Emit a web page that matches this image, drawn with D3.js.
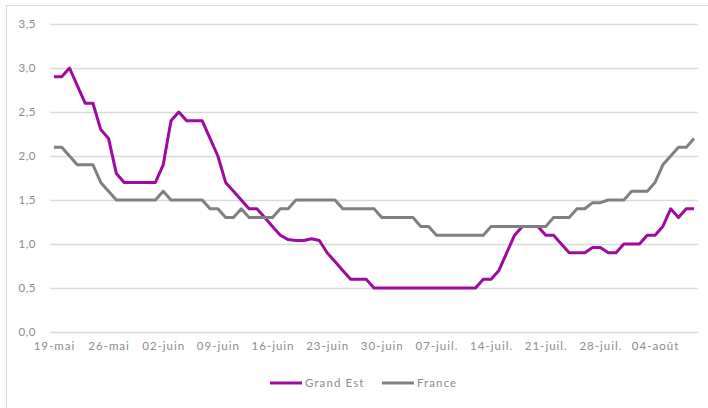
<!DOCTYPE html>
<html>
<head>
<meta charset="utf-8">
<script src="https://cdn.jsdelivr.net/npm/d3@7"></script>
<style>
	body { margin: 0; background: #fff; }
	text { font-family: Lato, 'Noto Sans', sans-serif; }
</style>
</head>
<body>
<script>
// one value per day, 19 mai -> 09 août
const days = d3.timeDay.range(new Date(2020, 4, 19), new Date(2020, 7, 10)).map(d3.timeFormat('%Y-%m-%d'));

const grandEst = [
	2.9, 2.9, 3.0, 2.8, 2.6, 2.6, 2.3, 2.2, 1.8, 1.7,
	1.7, 1.7, 1.7, 1.7, 1.9, 2.4, 2.5, 2.4, 2.4, 2.4,
	2.2, 2.0, 1.7, 1.6, 1.5, 1.4, 1.4, 1.3, 1.2, 1.1,
	1.05, 1.04, 1.04, 1.06, 1.04, 0.9, 0.8, 0.7, 0.6, 0.6,
	0.6, 0.5, 0.5, 0.5, 0.5, 0.5, 0.5, 0.5, 0.5, 0.5,
	0.5, 0.5, 0.5, 0.5, 0.5, 0.6, 0.6, 0.7, 0.9, 1.1,
	1.2, 1.2, 1.2, 1.1, 1.1, 1.0, 0.9, 0.9, 0.9, 0.96,
	0.96, 0.9, 0.9, 1.0, 1.0, 1.0, 1.1, 1.1, 1.2, 1.4,
	1.3, 1.4, 1.4
];

const france = [
	2.1, 2.1, 2.0, 1.9, 1.9, 1.9, 1.7, 1.6, 1.5, 1.5,
	1.5, 1.5, 1.5, 1.5, 1.6, 1.5, 1.5, 1.5, 1.5, 1.5,
	1.4, 1.4, 1.3, 1.3, 1.4, 1.3, 1.3, 1.3, 1.3, 1.4,
	1.4, 1.5, 1.5, 1.5, 1.5, 1.5, 1.5, 1.4, 1.4, 1.4,
	1.4, 1.4, 1.3, 1.3, 1.3, 1.3, 1.3, 1.2, 1.2, 1.1,
	1.1, 1.1, 1.1, 1.1, 1.1, 1.1, 1.2, 1.2, 1.2, 1.2,
	1.2, 1.2, 1.2, 1.2, 1.3, 1.3, 1.3, 1.4, 1.4, 1.47,
	1.47, 1.5, 1.5, 1.5, 1.6, 1.6, 1.6, 1.7, 1.9, 2.0,
	2.1, 2.1, 2.2
];

const tickLabels = ['19-mai', '26-mai', '02-juin', '09-juin', '16-juin', '23-juin',
	'30-juin', '07-juil.', '14-juil.', '21-juil.', '28-juil.', '04-août'];

const yTicks = [0, 0.5, 1, 1.5, 2, 2.5, 3, 3.5];

const series = [
	{ name: 'Grand Est', values: grandEst, color: '#9e0b9e' },
	{ name: 'France', values: france, color: '#808080' }
];

const w = 708;
const h = 408;

const svg = d3
	.select('body')
	.append('svg')
	.attr('width', w)
	.attr('height', h);

// outer frame
svg.append('rect')
	.attr('x', 6.5)
	.attr('y', 5.5)
	.attr('width', 740)
	.attr('height', 440)
	.attr('fill', 'none')
	.attr('stroke', '#d9d9d9');

const xScale = d3
	.scalePoint()
	.domain(days)
	.range([50, 698])
	.padding(0.5);

const yScale = d3
	.scaleLinear()
	.domain([0, 3.5])
	.range([332, 24]);

// gridlines + y labels
const yAxis = d3.axisLeft(yScale)
	.tickValues(yTicks)
	.tickSize(-648)
	.tickPadding(14)
	.tickFormat(d => d3.format('.1f')(d).replace('.', ','));

svg.append('g')
	.attr('transform', 'translate(50,0)')
	.call(yAxis)
	.call(g => g.select('.domain').remove())
	.call(g => g.selectAll('line').attr('stroke', '#d9d9d9').attr('stroke-width', 1.3))
	.call(g => g.selectAll('text')
		.attr('fill', '#8c8c8c')
		.style('font-size', '11.5px')
		.style('letter-spacing', '0.5px'));

const xAxis = d3.axisBottom(xScale)
	.tickValues(days.filter((d, i) => i % 7 === 0))
	.tickSize(0)
	.tickPadding(10)
	.tickFormat((d, i) => tickLabels[i]);

svg.append('g')
	.attr('transform', 'translate(0,332)')
	.call(xAxis)
	.call(g => g.select('.domain').remove())
	.call(g => g.selectAll('text')
		.attr('fill', '#8c8c8c')
		.style('font-size', '11.5px')
		.style('letter-spacing', '1px'));

const line = d3.line()
	.x((d, i) => xScale(days[i]))
	.y(d => yScale(d));

svg.selectAll('path.serie')
	.data(series)
	.enter()
	.append('path')
	.attr('class', 'serie')
	.attr('d', d => line(d.values))
	.attr('fill', 'none')
	.attr('stroke', d => d.color)
	.attr('stroke-width', 3)
	.attr('stroke-linejoin', 'round');

// legend
const legendX = [270, 382];
const legend = svg.selectAll('g.legend')
	.data(series)
	.enter()
	.append('g')
	.attr('class', 'legend')
	.attr('transform', (d, i) => `translate(${legendX[i]},383)`);

legend.append('line')
	.attr('x1', 0)
	.attr('x2', 32)
	.attr('stroke', d => d.color)
	.attr('stroke-width', 3);

legend.append('text')
	.attr('x', 35)
	.attr('dy', '0.35em')
	.attr('fill', '#8c8c8c')
	.style('font-size', '11.5px')
	.style('letter-spacing', '1.1px')
	.text(d => d.name);
</script>
</body>
</html>
